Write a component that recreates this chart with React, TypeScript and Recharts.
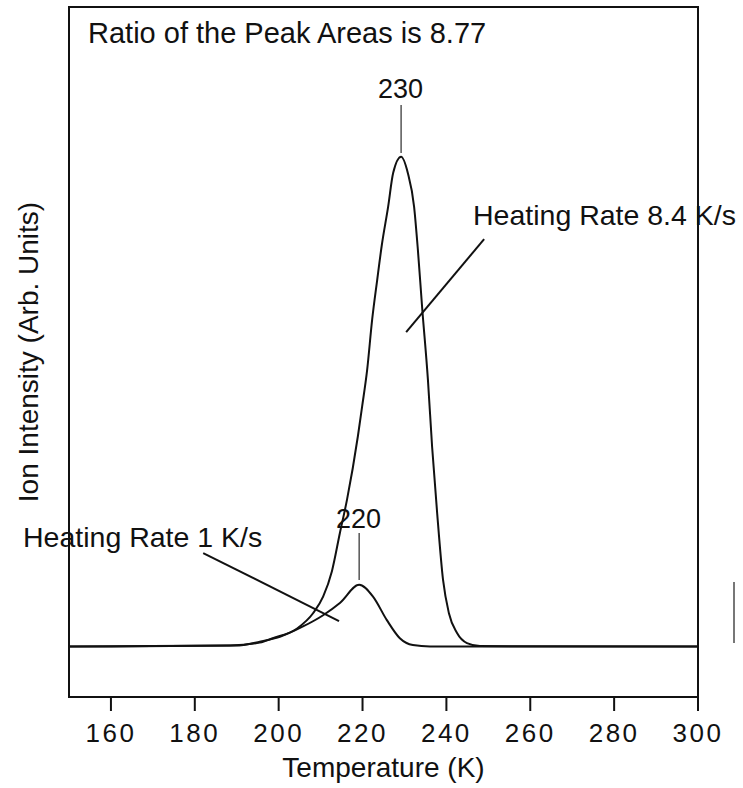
import React from "react";
import {
  LineChart,
  Line,
  XAxis,
  YAxis,
  ReferenceLine,
  ReferenceArea,
  Customized,
} from "recharts";

// temperatures (K) and ion intensity (arb. units, big peak = 100)
const fastTemps = [
  150, 188.4, 195.5, 198.6, 204.4, 208.2, 210.6, 212.7, 214.6, 216.3, 218.9, 219.9,
  221.1, 222.3, 223.5, 224.6, 226.1, 227.3, 229.2, 230.8, 232.3, 233.2, 234.2,
  235.6, 236.6, 237.8, 239.2, 240.6, 242.5, 244.9, 248.0, 300,
];
const fastIntensity = [
  0, 0.2, 0.8, 1.7, 3.7, 6.8, 10.2, 15.4, 23.2, 30.0, 43.0, 49.0,
  56.5, 66.8, 74.9, 82.0, 89.8, 96.7, 100, 96.7, 89.8, 81.0, 69.4,
  54.4, 40.7, 27.2, 13.6, 6.8, 2.8, 0.7, 0.1, 0,
];

const slowTemps = [
  150, 189.7, 195.5, 200.3, 205.8, 210.6, 214.6, 219.2, 222.5, 225.8, 228.9, 232.0, 236.1, 300,
];
const slowIntensity = [
  0, 0.2, 1.0, 2.0, 4.1, 6.4, 8.9, 12.6, 10.2, 5.4, 1.7, 0.3, 0, 0,
];

const xTicks = [160, 180, 200, 220, 240, 260, 280, 300];
const xDomain = [150, 300];
const yDomain = [-10.3, 130.6];

// annotation anchors in data coordinates
const peakFast = { t: 229.2, y1: 100.8, y2: 110.6 };
const peakSlow = { t: 219.2, y1: 13.6, y2: 23.2 };
const leaderFast = [
  { x: 249.0, y: 83.2 },
  { x: 230.4, y: 64.2 },
];
const leaderSlow = [
  { x: 182.0, y: 19.1 },
  { x: 214.4, y: 5.2 },
];

const fastData = fastTemps.map((t, i) => ({ t, v: fastIntensity[i] }));
const slowData = slowTemps.map((t, i) => ({ t, v: slowIntensity[i] }));

const FONT = '"Liberation Sans", Arial, Helvetica, sans-serif';
const INK = "#111";

function Annotations() {
  const txt = { fontFamily: FONT, fill: INK } as const;
  return (
    <g>
      <text x={88} y={43} fontSize={29} {...txt}>
        Ratio of the Peak Areas is 8.77
      </text>
      <text x={400.5} y={98} fontSize={27} textAnchor="middle" {...txt}>
        230
      </text>
      <text x={358.5} y={528} fontSize={27} textAnchor="middle" {...txt}>
        220
      </text>
      <text x={473} y={225} fontSize={28.5} {...txt}>
        Heating Rate 8.4 K/s
      </text>
      <text x={23} y={547} fontSize={28.5} {...txt}>
        Heating Rate 1 K/s
      </text>
      <text
        x={38}
        y={352}
        fontSize={28}
        textAnchor="middle"
        transform="rotate(-90, 38, 352)"
        {...txt}
      >
        Ion Intensity (Arb. Units)
      </text>
      {/* scale bar */}
      <line x1={734} y1={582} x2={734} y2={643} stroke="#777" strokeWidth={2} />
    </g>
  );
}

export default function App() {
  return (
    <div style={{ position: "absolute", left: 0, top: 0, background: "#fff" }}>
      <LineChart
        width={743}
        height={788}
        margin={{ top: 7, right: 45, left: 69, bottom: 0 }}
      >
        <ReferenceArea
          x1={xDomain[0]}
          x2={xDomain[1]}
          y1={yDomain[0]}
          y2={yDomain[1]}
          fill="none"
          stroke={INK}
          strokeWidth={2}
          fillOpacity={0}
        />
        <XAxis
          dataKey="t"
          type="number"
          domain={xDomain}
          ticks={xTicks}
          allowDataOverflow
          height={91}
          tickSize={14}
          tickMargin={13}
          axisLine={{ stroke: INK, strokeWidth: 2 }}
          tickLine={{ stroke: INK, strokeWidth: 2 }}
          tick={{ fontSize: 26, fill: INK, fontFamily: FONT, letterSpacing: 2.5 }}
          label={{
            value: "Temperature (K)",
            position: "insideBottom",
            offset: 11,
            fontSize: 28,
            fill: INK,
            fontFamily: FONT,
          }}
        />
        <YAxis type="number" domain={yDomain} allowDataOverflow hide />
        <Line
          data={fastData}
          dataKey="v"
          type="monotone"
          stroke={INK}
          strokeWidth={2}
          dot={false}
          activeDot={false}
          isAnimationActive={false}
        />
        <Line
          data={slowData}
          dataKey="v"
          type="monotone"
          stroke={INK}
          strokeWidth={2}
          dot={false}
          activeDot={false}
          isAnimationActive={false}
        />
        <ReferenceLine
          segment={[
            { x: peakFast.t, y: peakFast.y1 },
            { x: peakFast.t, y: peakFast.y2 },
          ]}
          stroke="#555"
          strokeWidth={1.5}
        />
        <ReferenceLine
          segment={[
            { x: peakSlow.t, y: peakSlow.y1 },
            { x: peakSlow.t, y: peakSlow.y2 },
          ]}
          stroke="#555"
          strokeWidth={1.5}
        />
        <ReferenceLine segment={leaderFast} stroke={INK} strokeWidth={2} />
        <ReferenceLine segment={leaderSlow} stroke={INK} strokeWidth={2} />
        <Customized component={<Annotations />} />
      </LineChart>
    </div>
  );
}
